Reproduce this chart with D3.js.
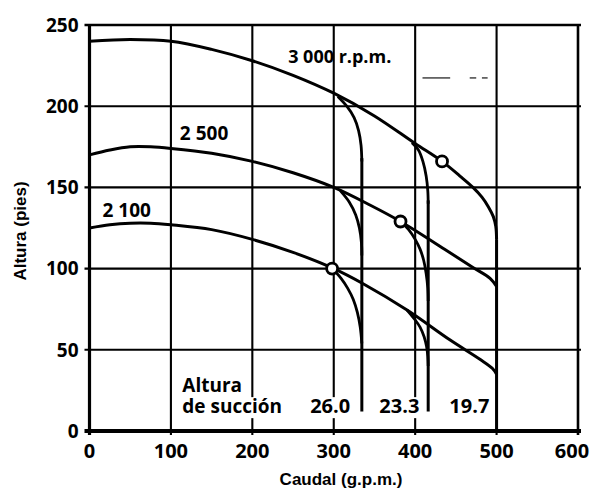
<!DOCTYPE html>
<html><head><meta charset="utf-8">
<script src="https://cdn.jsdelivr.net/npm/d3@7"></script>
<style>body{margin:0;background:#fff}svg{display:block}</style>
</head><body>
<svg id="c" width="592" height="491"></svg>
<script>
// ---- data ----
const xTicks = [0, 100, 200, 300, 400, 500, 600];
const yTicks = [0, 50, 100, 150, 200, 250];
const xTitle = "Caudal (g.p.m.)";
const yTitle = "Altura (pies)";

const rpm3000 = [[0,240],[50,241],[100,240],[150,235],[200,228],[250,219],[300,208],[350,194],[400,177],[433,166],[455,157],[471,150],[482,144],[490,138],[496,132],[499,126],[500,118]];
const rpm2500 = [[0,170],[25,173],[50,175],[75,175],[100,174],[150,171],[200,166],[250,159],[300,150],[345,139],[382,129],[439,111],[470,101],[492,94],[500,89]];
const rpm2100 = [[0,125],[25,127],[50,128],[75,128],[100,127],[150,124],[200,118],[250,110],[300,100],[335,91],[390,74.5],[443,56],[480,44],[495,38.5],[500,35]];

const branch260 = [
  [[305,206],[316,200],[325,193],[330.5,185],[333.5,176],[334.5,166]],
  [[308,148],[319,141],[327,133],[331.5,125],[334,116],[334.5,108]],
  [[298,100],[309,94],[317,88],[324,81],[329,73],[332.5,64],[334.5,54]]
];
const branch233 = [
  [[396,177.5],[404,173],[409.5,166],[413.5,157],[415.5,148],[416,140]],
  [[382,129],[392,124],[400,118],[406,112],[410.5,105],[413.5,97],[415.5,88],[416,80]],
  [[390,74.5],[399,69],[406,64],[411,58],[414,52],[415.5,46],[416,40]]
];
const suctionQ = [334.5, 416, 500];
const suctionTop = [168, 142, 118];
const suctionBottom = [12, 12, 0];
const suctionLabels = ["26.0", "23.3", "19.7"];
const suctionLabelQ = [271, 356, 442];

const opPoints = [[433,166],[382,129],[298,100]];

const curveLabels = ["3 000 r.p.m.", "2 500", "2 100"];
const curveLabelPos = [[244,226.5],[111,179],[16,131.5]];
const suctionTitle = ["Altura", "de succión"];
const suctionTitlePos = [[114,24],[114,11]];

const strayDashes = [[[409,217.4],[443,217.4]],[[467,217.4],[475,217.4]],[[482,217.4],[489,217.4]]];

// ---- drawing ----
const svg = d3.select("#c");
const x = d3.scaleLinear().domain([0, 600]).range([89.5, 578]);
const y = d3.scaleLinear().domain([0, 250]).range([431, 25]);
const numFont = "'Open Sans', sans-serif";

const g = svg.append("g");

// grid lines
g.selectAll("line.vg").data(xTicks).join("line")
  .attr("x1", d => x(d)).attr("x2", d => x(d))
  .attr("y1", y(250)).attr("y2", y(0) + 4)
  .attr("stroke", "#000").attr("stroke-width", d => (d === 0 ? 3.2 : d === 600 ? 2.6 : 2.1));
g.selectAll("line.hg").data(yTicks).join("line")
  .attr("x1", x(0) - 5).attr("x2", x(600) + 3)
  .attr("y1", d => y(d)).attr("y2", d => y(d))
  .attr("stroke", "#000").attr("stroke-width", d => (d === 0 ? 4 : d === 250 ? 2.6 : 2.1));

// stray scan dashes
g.selectAll("path.stray").data(strayDashes).join("path")
  .attr("d", d3.line().x(d => x(d[0])).y(d => y(d[1])))
  .attr("stroke", "#000").attr("stroke-width", 1.1).attr("fill", "none");

const bgLayer = g.append("g");
const lineLayer = g.append("g");
const textLayer = g.append("g");

function addBg(t, py) {
  const b = t.node().getBBox();
  bgLayer.append("rect")
    .attr("x", b.x - 2).attr("y", py - 16).attr("width", b.width + 4).attr("height", 21)
    .attr("fill", "#fff");
}

const line = d3.line().x(d => x(d[0])).y(d => y(d[1])).curve(d3.curveCatmullRom.alpha(0.5));

// suction vertical lines
lineLayer.selectAll("line.suc").data(suctionQ).join("line")
  .attr("x1", d => x(d)).attr("x2", d => x(d))
  .attr("y1", (d, i) => y(suctionTop[i])).attr("y2", (d, i) => y(suctionBottom[i]))
  .attr("stroke", "#000").attr("stroke-width", 3);

// branches
lineLayer.selectAll("path.b26").data(branch260).join("path")
  .attr("d", line).attr("fill", "none").attr("stroke", "#000").attr("stroke-width", 2.8);
lineLayer.selectAll("path.b23").data(branch233).join("path")
  .attr("d", line).attr("fill", "none").attr("stroke", "#000").attr("stroke-width", 2.8);

// main curves
lineLayer.selectAll("path.main").data([rpm3000, rpm2500, rpm2100]).join("path")
  .attr("d", line).attr("fill", "none").attr("stroke", "#000").attr("stroke-width", 3)
  .attr("stroke-linejoin", "round");

// operating points
lineLayer.selectAll("circle.op").data(opPoints).join("circle")
  .attr("cx", d => x(d[0])).attr("cy", d => y(d[1])).attr("r", 5.5)
  .attr("fill", "#fff").attr("stroke", "#000").attr("stroke-width", 2.8);

// curve labels
textLayer.selectAll("text.cl").data(curveLabels).join("text")
  .attr("x", (d, i) => x(curveLabelPos[i][0])).attr("y", (d, i) => y(curveLabelPos[i][1]))
  .attr("font-family", numFont).attr("font-weight", 700)
  .attr("font-size", (d, i) => i === 0 ? 18 : 19).attr("fill", "#000").text(d => d);

// suction title (one text, two lines)
const st = textLayer.append("text")
  .attr("font-family", numFont).attr("font-weight", 700).attr("font-size", 19).attr("fill", "#000");
const tspans = suctionTitle.map((s, i) => st.append("tspan")
  .attr("x", x(suctionTitlePos[i][0])).attr("y", y(suctionTitlePos[i][1])).text(s));
tspans.forEach((ts, i) => {
  const w = ts.node().getComputedTextLength();
  const py = y(suctionTitlePos[i][1]);
  bgLayer.append("rect").attr("x", x(suctionTitlePos[i][0]) - 2).attr("y", py - 16)
    .attr("width", w + 4).attr("height", 21).attr("fill", "#fff");
});

// suction values
suctionLabels.forEach((s, i) => {
  const t = textLayer.append("text").attr("x", x(suctionLabelQ[i])).attr("y", y(11))
    .attr("font-family", numFont).attr("font-weight", 700).attr("font-size", 20)
    .attr("fill", "#000").text(s);
  addBg(t, y(11));
});

// tick labels
textLayer.selectAll("text.yt").data(yTicks).join("text")
  .attr("x", x(0) - 11).attr("y", d => y(d)).attr("dy", "0.36em")
  .attr("text-anchor", "end").attr("font-family", numFont).attr("font-weight", 700)
  .attr("font-size", 19).attr("fill", "#000").text(d => d);
textLayer.selectAll("text.xt").data(xTicks).join("text")
  .attr("x", d => Math.min(x(d), 572)).attr("y", y(0) + 27)
  .attr("text-anchor", "middle").attr("font-family", numFont).attr("font-weight", 700)
  .attr("font-size", 20).attr("fill", "#000").text(d => d);

// axis titles
svg.append("text").attr("x", 341).attr("y", 485).attr("text-anchor", "middle")
  .attr("font-family", "'Liberation Sans', Arial, sans-serif").attr("font-weight", 700)
  .attr("font-size", 17).attr("fill", "#000").text(xTitle);
svg.append("text").attr("transform", "translate(26,231) rotate(-90)").attr("text-anchor", "middle")
  .attr("font-family", "'Liberation Sans', Arial, sans-serif").attr("font-weight", 700)
  .attr("font-size", 17).attr("fill", "#000").text(yTitle);
</script>
</body></html>
